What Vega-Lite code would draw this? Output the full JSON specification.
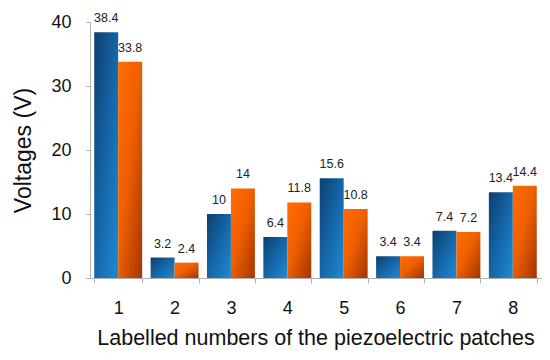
{
  "$schema": "https://vega.github.io/schema/vega-lite/v6.json",
  "width": 451,
  "height": 256,
  "autosize": {"type": "none"},
  "padding": {"left": 90, "top": 22, "right": 9, "bottom": 82},
  "background": "white",
  "config": {
    "font": "Liberation Sans",
    "view": {"stroke": null},
    "axis": {"grid": false, "domainColor": "#b0b0b0", "tickColor": "#b0b0b0", "labelColor": "#111", "titleColor": "#111", "titleFontWeight": "normal", "labelFont": "Liberation Sans", "titleFont": "Liberation Sans"}
  },
  "data": {
    "values": [
      {"patch": "1", "series": "A", "value": 38.4},
      {"patch": "1", "series": "B", "value": 33.8},
      {"patch": "2", "series": "A", "value": 3.2},
      {"patch": "2", "series": "B", "value": 2.4},
      {"patch": "3", "series": "A", "value": 10},
      {"patch": "3", "series": "B", "value": 14},
      {"patch": "4", "series": "A", "value": 6.4},
      {"patch": "4", "series": "B", "value": 11.8},
      {"patch": "5", "series": "A", "value": 15.6},
      {"patch": "5", "series": "B", "value": 10.8},
      {"patch": "6", "series": "A", "value": 3.4},
      {"patch": "6", "series": "B", "value": 3.4},
      {"patch": "7", "series": "A", "value": 7.4},
      {"patch": "7", "series": "B", "value": 7.2},
      {"patch": "8", "series": "A", "value": 13.4},
      {"patch": "8", "series": "B", "value": 14.4}
    ]
  },
  "encoding": {
    "x": {
      "field": "patch", "type": "nominal",
      "scale": {"paddingInner": 0.15, "paddingOuter": 0.075},
      "axis": {"labelAngle": 0, "labelFontSize": 18, "labelPadding": 16, "tickBand": "extent", "tickSize": 5, "title": "Labelled numbers of the piezoelectric patches", "titleFontSize": 21.5, "titlePadding": 10}
    },
    "xOffset": {"field": "series", "type": "nominal", "scale": {"domain": ["A", "B"], "paddingInner": 0, "paddingOuter": 0}},
    "y": {
      "field": "value", "type": "quantitative",
      "scale": {"domain": [0, 40], "nice": false},
      "axis": {"values": [0, 10, 20, 30, 40], "labelFontSize": 18, "labelPadding": 15, "tickSize": 4, "title": "Voltages (V)", "titleFontSize": 23, "titlePadding": 15}
    }
  },
  "layer": [
    {
      "transform": [{"filter": "datum.series === 'A'"}],
      "mark": {"type": "bar", "fill": {"gradient": "linear", "x1": 0, "y1": 0, "x2": 1, "y2": 1, "stops": [{"offset": 0, "color": "#0c3f6e"}, {"offset": 0.5, "color": "#1466a8"}, {"offset": 1, "color": "#1f8ad4"}]}}
    },
    {
      "transform": [{"filter": "datum.series === 'B'"}],
      "mark": {"type": "bar", "fill": {"gradient": "linear", "x1": 0, "y1": 0, "x2": 1, "y2": 1, "stops": [{"offset": 0, "color": "#ff6c00"}, {"offset": 0.45, "color": "#f06000"}, {"offset": 1, "color": "#a33500"}]}}
    },
    {
      "mark": {"type": "text", "dy": -14, "fontSize": 12.5, "color": "#222", "font": "Liberation Sans"},
      "encoding": {"text": {"field": "value", "type": "quantitative"}}
    }
  ]
}
